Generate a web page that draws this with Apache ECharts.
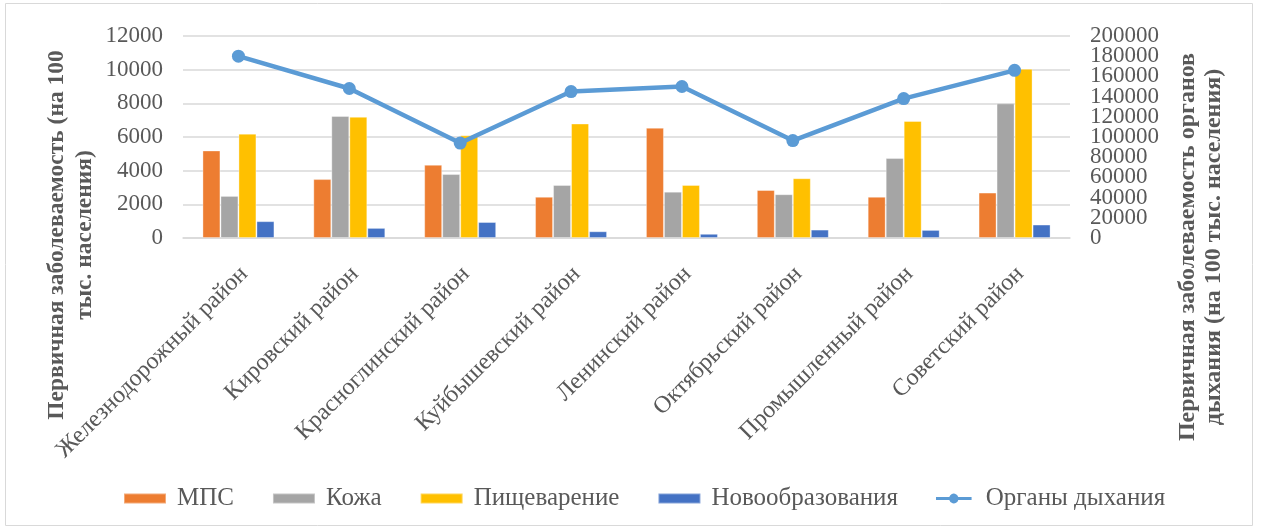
<!DOCTYPE html>
<html>
<head>
<meta charset="utf-8">
<script src="https://cdn.jsdelivr.net/npm/echarts@6/dist/echarts.min.js"></script>
<style>
  html, body { margin: 0; padding: 0; background: #fff; }
  #chart { width: 1262px; height: 530px; }
</style>
</head>
<body>
<div id="chart"></div>
<script>
// Districts on the category axis
const categories = [
  'Железнодорожный район', 'Кировский район', 'Красноглинский район',
  'Куйбышевский район', 'Ленинский район', 'Октябрьский район',
  'Промышленный район', 'Советский район'
];
// Primary incidence per 100 thousand population (left axis)
const mps       = [5200, 3500, 4350, 2450, 6550, 2850, 2450, 2700];
const skin      = [2500, 7250, 3800, 3150, 2750, 2600, 4750, 8000];
const digestion = [6200, 7200, 6100, 6800, 3150, 3550, 6950, 10050];
const neoplasms = [1000, 600, 950, 400, 250, 500, 480, 800];
// Respiratory organs (right axis)
const respiratory = [180000, 148000, 94000, 145000, 150000, 96500, 138000, 166000];

const seriesNames = ['МПС', 'Кожа', 'Пищеварение', 'Новообразования', 'Органы дыхания'];
const colors = ['#ED7D31', '#A5A5A5', '#FFC000', '#4472C4', '#5B9BD5'];

const FONT = '"Liberation Serif", "Times New Roman", serif';
const TEXT = '#595959';

const chart = echarts.init(document.getElementById('chart'), null, { renderer: 'canvas' });

function bar(name, data, color) {
  return {
    name: name,
    type: 'bar',
    yAxisIndex: 0,
    data: data,
    barWidth: 18,
    barGap: '0%',
    itemStyle: { color: color, borderColor: 'rgba(255,255,255,0.35)', borderWidth: 1 }
  };
}

const plainNumber = v => String(v);

// The right scale has tightly packed labels; it is drawn as two overlaid axes
// with the same range, one labelling even steps and one labelling odd steps,
// so the library's min/max overlap hiding never removes a label.
function rightAxis(showEven) {
  return {
    type: 'value',
    position: 'right',
    min: 0,
    max: 200000,
    interval: 20000,
    axisLine: { show: false },
    axisTick: { show: false },
    splitLine: { show: false },
    axisLabel: {
      color: TEXT, fontFamily: FONT, fontSize: 23, margin: 20,
      showMinLabel: showEven, showMaxLabel: showEven, hideOverlap: false,
      formatter: v => ((Math.round(v / 20000) % 2 === 0) === showEven ? String(v) : '')
    }
  };
}

chart.setOption({
  animation: false,
  color: colors,
  grid: { left: 183, right: 192, top: 36, bottom: 292, containLabel: false },
  legend: {
    bottom: 14,
    left: 118,
    itemWidth: 42,
    itemHeight: 10,
    itemGap: 38,
    icon: 'rect',
    textStyle: { color: TEXT, fontFamily: FONT, fontSize: 25, padding: [0, 0, 0, 6] },
    data: [
      { name: seriesNames[0] },
      { name: seriesNames[1] },
      { name: seriesNames[2] },
      { name: seriesNames[3] },
      { name: seriesNames[4], icon: 'path://M0,4 L17.2,4 A6,6 0 0 1 28.8,4 L46,4 L46,8 L28.8,8 A6,6 0 0 1 17.2,8 L0,8 Z' }
    ]
  },
  xAxis: {
    type: 'category',
    data: categories,
    axisTick: { show: false },
    axisLine: { lineStyle: { color: '#D9D9D9', width: 1.5 } },
    axisLabel: {
      interval: 0,
      rotate: 45,
      margin: 38,
      padding: [0, -8, 0, 0],
      color: TEXT,
      fontFamily: FONT,
      fontSize: 24
    }
  },
  yAxis: [
    {
      type: 'value',
      min: 0,
      max: 12000,
      interval: 2000,
      axisLine: { show: false },
      axisTick: { show: false },
      splitLine: { lineStyle: { color: '#D9D9D9', width: 1.5 } },
      axisLabel: {
        color: TEXT, fontFamily: FONT, fontSize: 23, margin: 20,
        formatter: plainNumber, showMinLabel: true, showMaxLabel: true, hideOverlap: false
      }
    },
    rightAxis(true),
    rightAxis(false)
  ],
  series: [
    bar(seriesNames[0], mps, colors[0]),
    bar(seriesNames[1], skin, colors[1]),
    bar(seriesNames[2], digestion, colors[2]),
    bar(seriesNames[3], neoplasms, colors[3]),
    {
      name: seriesNames[4],
      type: 'line',
      yAxisIndex: 1,
      data: respiratory,
      symbol: 'circle',
      symbolSize: 13,
      lineStyle: { color: colors[4], width: 4.5 },
      itemStyle: { color: colors[4] },
      z: 5
    }
  ],
  graphic: [
    {
      type: 'rect',
      shape: { x: 5.5, y: 3.5, width: 1247, height: 522 },
      style: { fill: 'none', stroke: '#D9D9D9', lineWidth: 1 },
      silent: true
    },
    {
      type: 'text',
      x: 71,
      y: 235,
      rotation: Math.PI / 2,
      style: {
        text: 'Первичная заболеваемость (на 100\nтыс. населения)',
        fontFamily: FONT,
        fontWeight: 'bold',
        fontSize: 23.5,
        lineHeight: 28,
        fill: TEXT,
        align: 'center',
        verticalAlign: 'middle'
      }
    },
    {
      type: 'text',
      x: 1201,
      y: 247,
      rotation: Math.PI / 2,
      style: {
        text: 'Первичная заболеваемость органов\nдыхания (на 100 тыс. населения)',
        fontFamily: FONT,
        fontWeight: 'bold',
        fontSize: 24,
        lineHeight: 26,
        fill: TEXT,
        align: 'center',
        verticalAlign: 'middle'
      }
    }
  ]
});
</script>
</body>
</html>
